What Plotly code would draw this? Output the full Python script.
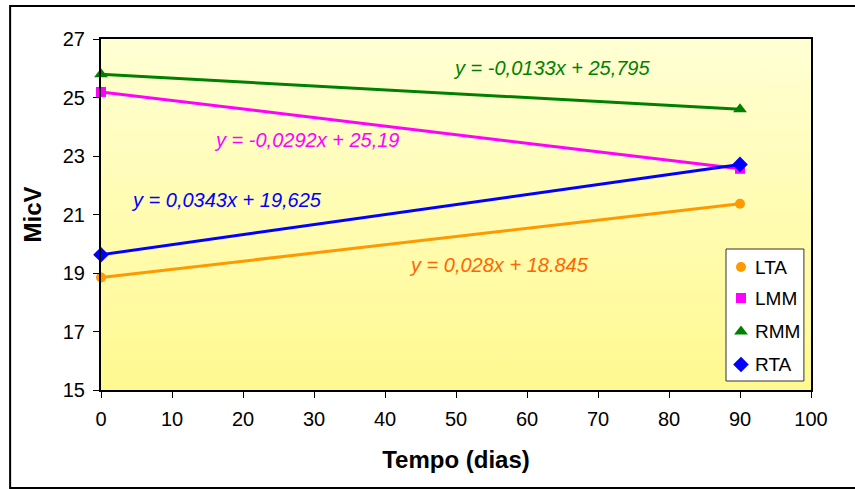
import plotly.graph_objects as go

days = [0, 90]
LTA = [18.845, 21.365]
LMM = [25.19, 22.562]
RMM = [25.795, 24.598]
RTA = [19.625, 22.712]

series_names = ["LTA", "LMM", "RMM", "RTA"]
series_values = [LTA, LMM, RMM, RTA]
line_colors = ["#FF9900", "#FF00FF", "#008000", "#0000FF"]
symbols = ["circle", "square", "triangle-up", "diamond"]
marker_sizes = [10, 10, 12, 12]

eq_texts = ["y = 0,028x + 18.845", "y = -0,0292x + 25,19", "y = -0,0133x + 25,795", "y = 0,0343x + 19,625"]
eq_colors = ["#FF6600", "#FF00FF", "#008000", "#0000FF"]
eq_x = [56.0, 28.9, 63.4, 17.7]
eq_y = [19.27, 23.55, 26.01, 21.5]

x_range = [0, 100]
y_range = [15, 27]

# custom legend layout (paper fractions)
leg_box_x = [0.8803, 0.990]
leg_box_y = [0.0256, 0.4017]
leg_item_y = [0.3504, 0.2621, 0.1667, 0.0726]
leg_marker_x = 0.9014
leg_text_x = 0.9183

fig = go.Figure()

# gradient background of plot area
fig.add_trace(go.Scatter(
    x=[x_range[0], x_range[1], x_range[1], x_range[0], x_range[0]],
    y=[y_range[0], y_range[0], y_range[1], y_range[1], y_range[0]],
    mode="lines", line=dict(width=0), fill="toself",
    fillgradient=dict(type="vertical", colorscale=[[0, "#FFF990"], [1, "#FFFFD4"]]),
    hoverinfo="skip", showlegend=False))

for name, vals, c, s, ms in zip(series_names, series_values, line_colors, symbols, marker_sizes):
    fig.add_trace(go.Scatter(
        x=days, y=vals, mode="lines+markers", name=name,
        line=dict(color=c, width=3),
        marker=dict(color=c, symbol=s, size=ms, opacity=1),
        cliponaxis=False, showlegend=False))

for t, c, xx, yy in zip(eq_texts, eq_colors, eq_x, eq_y):
    fig.add_annotation(x=xx, y=yy, text="<i>" + t + "</i>", showarrow=False,
                       font=dict(family="Liberation Sans, Arial", size=20, color=c),
                       xanchor="center", yanchor="middle")

# legend: box, markers on an overlay axis, labels
bx0, bx1 = leg_box_x
by0, by1 = leg_box_y
fig.add_trace(go.Scatter(
    x=[bx0, bx1, bx1, bx0, bx0], y=[by0, by0, by1, by1, by0],
    mode="lines", fill="toself", fillcolor="white", line=dict(color="#333333", width=1),
    xaxis="x2", yaxis="y2", hoverinfo="skip", showlegend=False))
fig.add_trace(go.Scatter(
    x=[leg_marker_x] * len(series_names), y=leg_item_y, mode="markers",
    marker=dict(color=line_colors, symbol=symbols, size=[10, 10, 12, 12], opacity=1,
                line=dict(width=0)),
    xaxis="x2", yaxis="y2", hoverinfo="skip", showlegend=False, cliponaxis=False))
for name, yy in zip(series_names, leg_item_y):
    fig.add_annotation(xref="paper", yref="paper", x=leg_text_x, y=yy, text=name,
                       showarrow=False, xanchor="left", yanchor="middle",
                       font=dict(family="Liberation Sans, Arial", size=19, color="black"))

font_family = "Liberation Sans, Arial"
fig.update_layout(
    width=855, height=489,
    margin=dict(l=101, r=44, t=39, b=99),
    paper_bgcolor="white",
    plot_bgcolor="#FFFFCC",
    font=dict(family=font_family, size=20, color="black"),
    xaxis=dict(range=x_range, dtick=10, tick0=0, showgrid=False, zeroline=False,
               showline=True, linecolor="black", linewidth=2, mirror=True,
               ticks="outside", ticklen=6, tickcolor="black",
               tickfont=dict(size=20), ticklabelstandoff=4,
               title=dict(text="<b>Tempo (dias)</b>", font=dict(size=24), standoff=22)),
    yaxis=dict(range=y_range, dtick=2, tick0=15, showgrid=True, gridcolor="black", gridwidth=1,
               zeroline=False, showline=True, linecolor="black", linewidth=2, mirror=True,
               ticks="outside", ticklen=6, tickcolor="black",
               tickfont=dict(size=20), ticklabelstandoff=4,
               title=dict(text="<b>MicV</b>", font=dict(size=24), standoff=14)),
    xaxis2=dict(range=[0, 1], overlaying="x", visible=False, domain=[0, 1]),
    yaxis2=dict(range=[0, 1], overlaying="y", visible=False, domain=[0, 1]),
    shapes=[dict(type="rect", xref="paper", yref="paper",
                 x0=-0.128, x1=1.08, y0=-0.279, y1=1.094,
                 line=dict(color="black", width=2), fillcolor="rgba(0,0,0,0)", layer="below")],
    showlegend=False,
)

fig.write_html("out.html")
